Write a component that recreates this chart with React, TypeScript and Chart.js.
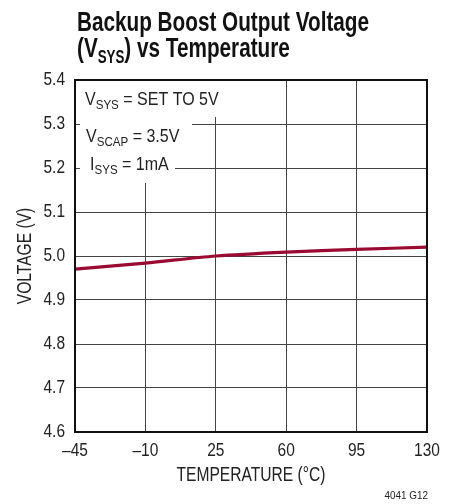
import React, { useEffect, useRef } from "react";
import { Chart, registerables } from "chart.js";

Chart.register(...registerables);

const temperatures = [-45, -10, 25, 60, 95, 130];
const voltages = [4.970, 4.984, 5.0, 5.009, 5.015, 5.02];
const xTicks = [-45, -10, 25, 60, 95, 130];
const yTicks = [4.6, 4.7, 4.8, 4.9, 5.0, 5.1, 5.2, 5.3, 5.4];
const xTitle = "TEMPERATURE (\u00B0C)";
const yTitle = "VOLTAGE (V)";
const titleLine1 = "Backup Boost Output Voltage";
const footnote = "4041 G12";

const FONT = "'Liberation Sans', Arial, sans-serif";
const TEXT = "#222";

type Part = { t: string; sub?: boolean };

function setFont(ctx: CanvasRenderingContext2D, size: number, bold: boolean) {
  ctx.font = `${bold ? "bold " : ""}${size}px ${FONT}`;
}

// draws condensed text (horizontal scale sx), x = left edge, y = baseline
function drawRich(ctx: CanvasRenderingContext2D, parts: Part[], x: number, y: number, size: number, subSize: number, bold: boolean, sx: number, subDy: number) {
  let cx = x;
  ctx.textBaseline = "alphabetic";
  ctx.textAlign = "left";
  for (const p of parts) {
    setFont(ctx, p.sub ? subSize : size, bold);
    ctx.save();
    ctx.translate(cx, p.sub ? y + subDy : y);
    ctx.scale(sx, 1);
    ctx.fillText(p.t, 0, 0);
    ctx.restore();
    cx += ctx.measureText(p.t).width * sx;
  }
  return cx;
}

function drawText(ctx: CanvasRenderingContext2D, t: string, x: number, y: number, size: number, align: "left" | "center" | "right", sx: number, rotate = 0) {
  setFont(ctx, size, false);
  ctx.save();
  ctx.translate(x, y);
  if (rotate) ctx.rotate(rotate);
  ctx.scale(sx, 1);
  ctx.textAlign = align;
  ctx.textBaseline = "middle";
  ctx.fillText(t, 0, 0);
  ctx.restore();
}

const notes: { parts: Part[]; x: number; y: number; box: [number, number, number, number] }[] = [
  { parts: [{ t: "V" }, { t: "SYS", sub: true }, { t: " = SET TO 5V" }], x: 85, y: 105, box: [76, 81, 226, 117] },
  { parts: [{ t: "V" }, { t: "SCAP", sub: true }, { t: " = 3.5V" }], x: 86, y: 142, box: [80, 117, 192, 150] },
  { parts: [{ t: "I" }, { t: "SYS", sub: true }, { t: " = 1mA" }], x: 90, y: 170, box: [80, 150, 175, 183] },
];

const overlay = {
  id: "overlay",
  beforeDatasetsDraw(chart: any) {
    const ctx = chart.ctx as CanvasRenderingContext2D;
    ctx.save();
    for (const n of notes) {
      ctx.fillStyle = "#fff";
      ctx.fillRect(n.box[0], n.box[1], n.box[2] - n.box[0], n.box[3] - n.box[1]);
      ctx.fillStyle = TEXT;
      drawRich(ctx, n.parts, n.x, n.y, 18, 13, false, 0.89, 4);
    }
    ctx.restore();
  },
  afterDraw(chart: any) {
    const ctx = chart.ctx as CanvasRenderingContext2D;
    const a = chart.chartArea;
    const xs = chart.scales.x;
    const ys = chart.scales.y;
    ctx.save();
    ctx.strokeStyle = "#111";
    ctx.lineWidth = 2;
    ctx.strokeRect(a.left, a.top, a.right - a.left, a.bottom - a.top);

    ctx.fillStyle = TEXT;
    for (const v of xTicks) {
      drawText(ctx, String(v).replace("-", "\u2013"), xs.getPixelForValue(v), a.bottom + 19, 18, "center", 0.86);
    }
    for (const v of yTicks) {
      drawText(ctx, v.toFixed(1), a.left - 10, ys.getPixelForValue(v), 18, "right", 0.86);
    }
    drawText(ctx, xTitle, (a.left + a.right) / 2, a.bottom + 44, 19.5, "center", 0.8);
    drawText(ctx, yTitle, 26, (a.top + a.bottom) / 2, 19.5, "center", 0.8, -Math.PI / 2);

    ctx.fillStyle = "#111";
    drawRich(ctx, [{ t: titleLine1 }], 77, 31, 28, 18, true, 0.74, 0);
    drawRich(ctx, [{ t: "(V" }, { t: "SYS", sub: true }, { t: ") vs Temperature" }], 77, 57, 28, 18, true, 0.74, 6);

    ctx.fillStyle = TEXT;
    drawText(ctx, footnote, 428, 496, 11.5, "right", 0.86);
    ctx.restore();
  },
};

export default function App() {
  const ref = useRef<HTMLCanvasElement | null>(null);
  useEffect(() => {
    if (!ref.current) return;
    const chart = new Chart(ref.current, {
      type: "line",
      data: {
        datasets: [
          {
            data: temperatures.map((t, i) => ({ x: t, y: voltages[i] })),
            borderColor: "#9b0a33",
            borderWidth: 3.2,
            pointRadius: 0,
            tension: 0.3,
            fill: false,
          },
        ],
      },
      options: {
        animation: false,
        responsive: false,
        maintainAspectRatio: false,
        layout: { padding: { top: 80, right: 31, left: 0, bottom: 0 } },
        plugins: { legend: { display: false }, tooltip: { enabled: false }, title: { display: false } },
        scales: {
          x: {
            type: "linear",
            min: xTicks[0],
            max: xTicks[xTicks.length - 1],
            afterFit: (s: any) => { s.height = 72; },
            afterBuildTicks: (s: any) => { s.ticks = xTicks.map((v) => ({ value: v })); },
            grid: { color: "#444", lineWidth: 1, drawTicks: false },
            border: { display: false },
            ticks: { display: false },
            title: { display: false },
          },
          y: {
            type: "linear",
            min: yTicks[0],
            max: yTicks[yTicks.length - 1],
            afterFit: (s: any) => { s.width = 75; },
            afterBuildTicks: (s: any) => { s.ticks = yTicks.map((v) => ({ value: v })); },
            grid: { color: "#444", lineWidth: 1, drawTicks: false },
            border: { display: false },
            ticks: { display: false },
            title: { display: false },
          },
        },
      },
      plugins: [overlay],
    } as any);
    return () => chart.destroy();
  }, []);
  return (
    <div style={{ position: "absolute", left: 0, top: 0, width: 458, height: 504, background: "#fff" }}>
      <canvas ref={ref} width={458} height={504} style={{ width: 458, height: 504 }} />
    </div>
  );
}
